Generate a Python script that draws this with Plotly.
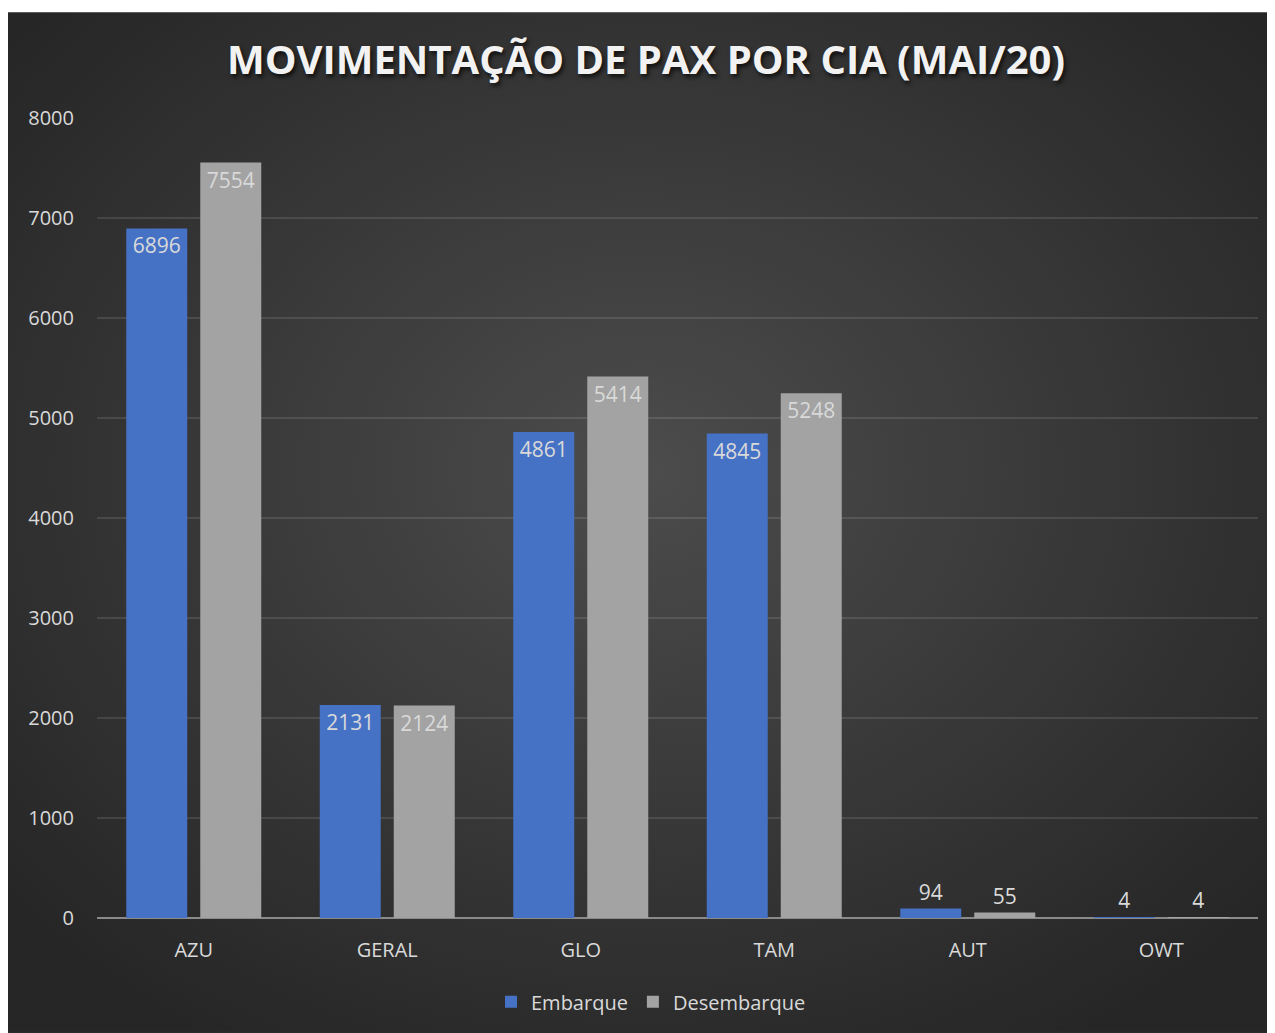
import base64
import plotly.graph_objects as go

categories = ["AZU", "GERAL", "GLO", "TAM", "AUT", "OWT"]
embarque = [6896, 2131, 4861, 4845, 94, 4]
desembarque = [7554, 2124, 5414, 5248, 55, 4]
title_text = "MOVIMENTAÇÃO DE PAX POR CIA (MAI/20)"
y_ticks = [0, 1000, 2000, 3000, 4000, 5000, 6000, 7000, 8000]

# page is rendered with an 8px body margin; work in figure coordinates
OFF = 8
W, H = 1275 - OFF, 1033 - OFF
L, T = 97 - OFF, 118 - OFF
R = W - (1258 - OFF)
B = H - (920 - OFF)
pw, ph = W - L - R, H - T - B

svg = (
    '<svg xmlns="http://www.w3.org/2000/svg" width="1268" height="1021" viewBox="0 0 1268 1021" preserveAspectRatio="none">'
    '<defs><radialGradient id="g" cx="50%" cy="45%" r="65%">'
    '<stop offset="0%" stop-color="#4c4c4c"/>'
    '<stop offset="100%" stop-color="#262626"/>'
    '</radialGradient></defs>'
    '<rect width="1268" height="1021" fill="url(#g)"/></svg>'
)
src = "data:image/svg+xml;base64," + base64.b64encode(svg.encode()).decode()

def px_x(p):  # page px -> paper
    return (p - OFF - L) / pw

def px_y(p):
    return (H - B - (p - OFF)) / ph

def positions(vals):
    return ["inside" if v > 500 else "outside" for v in vals]

fig = go.Figure()
fig.add_trace(go.Bar(
    name="Embarque", x=categories, y=embarque,
    marker=dict(color="#4672c6", line=dict(width=0)),
    text=[str(v) for v in embarque], textposition=positions(embarque),
    insidetextanchor="end", constraintext="none", cliponaxis=False,
    textfont=dict(size=21, color="#d9d9d9", family="Open Sans"),
))
fig.add_trace(go.Bar(
    name="Desembarque", x=categories, y=desembarque,
    marker=dict(color="#a3a3a3", line=dict(width=0)),
    text=[str(v) for v in desembarque], textposition=positions(desembarque),
    insidetextanchor="end", constraintext="none", cliponaxis=False,
    textfont=dict(size=21, color="#d9d9d9", family="Open Sans"),
))

fig.update_layout(
    width=W, height=H,
    margin=dict(l=L, r=R, t=T, b=B),
    paper_bgcolor="#2b2b2b",
    plot_bgcolor="rgba(0,0,0,0)",
    barmode="group", bargap=0.235, bargroupgap=0.176,
    images=[dict(source=src, xref="paper", yref="paper",
                 x=px_x(7), y=px_y(12), sizex=px_x(1276) - px_x(7), sizey=px_y(12) - px_y(1034),
                 xanchor="left", yanchor="top", sizing="stretch", layer="below")],
    shapes=[dict(type="rect", xref="paper", yref="paper", layer="below",
                 x0=px_x(0), x1=px_x(1276), y0=px_y(0), y1=px_y(12),
                 fillcolor="white", line=dict(width=0))],
    title=dict(text="<b>" + title_text + "</b>", x=(646 - OFF) / W, xanchor="center",
               y=1 - (60 - OFF) / H, yanchor="middle", yref="container",
               font=dict(family="Open Sans", size=40, color="#f2f2f2",
                         shadow="2px 3px 4px rgba(0,0,0,0.7)")),
    font=dict(family="Open Sans", color="#d9d9d9", size=20),
    xaxis=dict(showgrid=False, showline=False, ticks="", tickfont=dict(size=20, color="#d9d9d9"),
               ticklabelstandoff=18),
    yaxis=dict(range=[0, 8000], tickvals=y_ticks, ticktext=[str(v) for v in y_ticks],
               showgrid=True, gridcolor="rgba(255,255,255,0.11)", gridwidth=1.5,
               zeroline=True, zerolinecolor="#8a8a8a", zerolinewidth=2,
               showline=False, ticks="", ticklabelstandoff=22,
               tickfont=dict(size=20, color="#d9d9d9")),
    legend=dict(orientation="h", x=px_x(651), xanchor="center", y=px_y(1004), yanchor="middle",
                font=dict(size=20, color="#d9d9d9"), bgcolor="rgba(0,0,0,0)",
                itemwidth=30, tracegroupgap=0),
)

fig.write_html("out.html")
